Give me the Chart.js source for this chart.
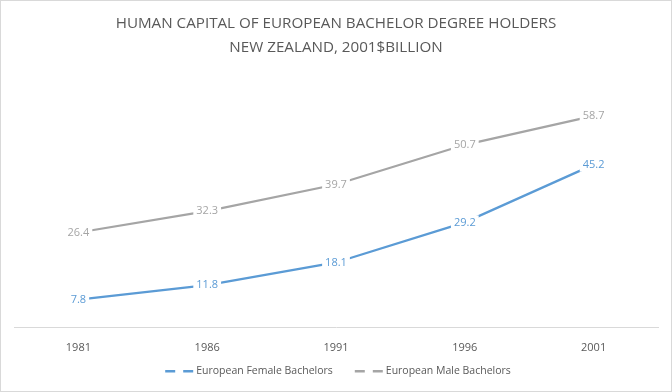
<!DOCTYPE html>
<html>
<head>
<meta charset="utf-8">
<script src="https://cdn.jsdelivr.net/npm/chart.js@4.4.0/dist/chart.umd.min.js"></script>
<style>
  html, body { margin: 0; padding: 0; background: #fff; }
  #wrap { width: 670px; height: 390px; border: 1px solid #d9d9d9; position: relative; }
</style>
</head>
<body>
<div id="wrap"><canvas id="chart" width="670" height="390"></canvas></div>
<script>
const years = ['1981', '1986', '1991', '1996', '2001'];
const femaleValues = [7.8, 11.8, 18.1, 29.2, 45.2];
const maleValues = [26.4, 32.3, 39.7, 50.7, 58.7];
const titleLines = ['HUMAN CAPITAL OF EUROPEAN BACHELOR DEGREE HOLDERS', 'NEW ZEALAND, 2001$BILLION'];

const FONT = "'Open Sans', 'DejaVu Sans', sans-serif";

// etiquetas de valor centradas no ponto, com fundo branco
const labelPlugin = {
    id: 'pointLabels',
    afterDatasetsDraw(chart) {
        const ctx = chart.ctx;
        ctx.save();
        ctx.font = '11px ' + FONT;
        ctx.textAlign = 'center';
        ctx.textBaseline = 'middle';
        chart.data.datasets.forEach((ds, i) => {
            const meta = chart.getDatasetMeta(i);
            meta.data.forEach((pt, j) => {
                const txt = ds.data[j].toFixed(1);
                const w = ctx.measureText(txt).width;
                ctx.fillStyle = '#ffffff';
                ctx.fillRect(pt.x - w / 2 - 3, pt.y - 7, w + 6, 14);
                ctx.fillStyle = ds.borderColor;
                ctx.fillText(txt, pt.x, pt.y);
            });
        });
        ctx.restore();
    }
};

// legenda desenhada à mão: dois traços + nome da série (estilo Excel)
const dashLegend = {
    id: 'dashLegend',
    afterDraw(chart) {
        const ctx = chart.ctx;
        const y = 370;
        const gap = 22;
        ctx.save();
        ctx.font = '10.5px ' + FONT;
        ctx.textBaseline = 'middle';
        const items = chart.data.datasets.map(ds => ({
            color: ds.borderColor,
            text: ds.label,
            w: 31 + ctx.measureText(ds.label).width
        }));
        const total = items.reduce((s, it) => s + it.w, 0) + gap * (items.length - 1);
        let x = chart.width / 2 - total / 2 + 2;
        items.forEach(it => {
            ctx.fillStyle = it.color;
            ctx.fillRect(x, y - 1, 10, 2.5);
            ctx.fillRect(x + 18, y - 1, 10, 2.5);
            ctx.fillStyle = '#595959';
            ctx.fillText(it.text, x + 31, y);
            x += it.w + gap;
        });
        ctx.restore();
    }
};

new Chart(document.getElementById('chart'), {
    type: 'line',
    data: {
        labels: years,
        datasets: [{
            label: 'European Female Bachelors',
            data: femaleValues,
            borderColor: '#5b9bd5',
            borderWidth: 2.25,
            pointRadius: 0,
            tension: 0
        }, {
            label: 'European Male Bachelors',
            data: maleValues,
            borderColor: '#a5a5a5',
            borderWidth: 2.25,
            pointRadius: 0,
            tension: 0
        }]
    },
    options: {
        responsive: false,
        animation: false,
        layout: { padding: { left: 13, right: 13, bottom: 24 } },
        plugins: {
            title: {
                display: true,
                text: titleLines,
                color: '#595959',
                font: { family: FONT, size: 15.2, weight: 'normal', lineHeight: 1.55 },
                padding: { top: 11, bottom: 16 }
            },
            legend: { display: false },
            tooltip: { enabled: false }
        },
        scales: {
            x: {
                offset: true,
                grid: { display: false, drawTicks: false },
                border: { color: '#d9d9d9', width: 1 },
                ticks: { color: '#595959', font: { family: FONT, size: 11 }, padding: 13 }
            },
            y: {
                min: 0,
                max: 70,
                display: false
            }
        }
    },
    plugins: [labelPlugin, dashLegend]
});
</script>
</body>
</html>
